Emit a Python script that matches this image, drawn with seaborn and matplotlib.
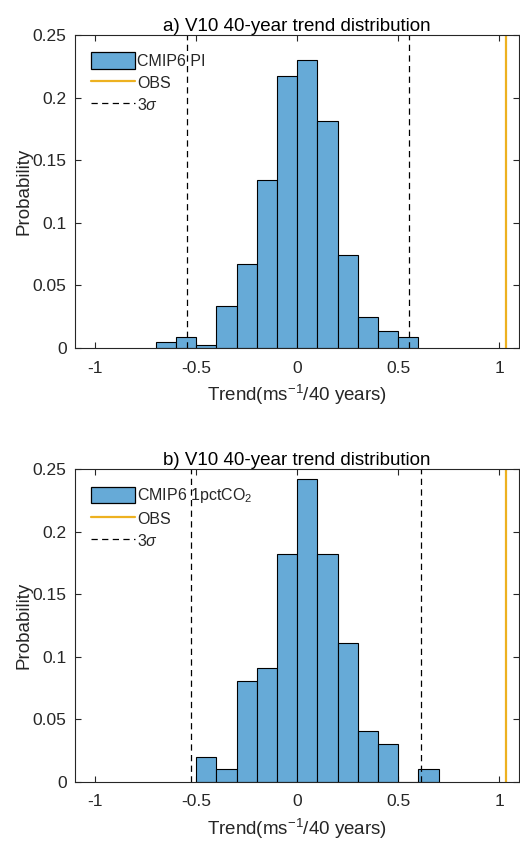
import numpy as np
import pandas as pd
import matplotlib
matplotlib.use('Agg')
import matplotlib.pyplot as plt
import seaborn as sns
from matplotlib.patches import Patch
from matplotlib.lines import Line2D

# bin edges and probabilities
edges_pi = [-0.7, -0.6, -0.5, -0.4, -0.3, -0.2, -0.1, 0.0, 0.1, 0.2, 0.3, 0.4, 0.5, 0.6]
prob_pi = [0.0045, 0.009, 0.0023, 0.0337, 0.0672, 0.134, 0.217, 0.230, 0.181, 0.0739, 0.0247, 0.0135, 0.009]

edges_co2 = [-0.5, -0.4, -0.3, -0.2, -0.1, 0.0, 0.1, 0.2, 0.3, 0.4, 0.5, 0.6, 0.7]
prob_co2 = [0.0202, 0.0101, 0.0808, 0.0909, 0.1818, 0.2424, 0.1818, 0.1111, 0.0404, 0.0303, 0.0, 0.0101]

sigma_pi = [-0.545, 0.554]
sigma_co2 = [-0.523, 0.615]
obs_trend = 1.033

titles = ['a) V10 40-year trend distribution', 'b) V10 40-year trend distribution']
labels = ['CMIP6 PI', 'CMIP6 1pctCO$_2$']

sns.set_theme(style='white')
plt.rcParams['font.family'] = ['Liberation Sans', 'DejaVu Sans']
plt.rcParams['mathtext.fontset'] = 'custom'
plt.rcParams['mathtext.rm'] = 'Liberation Sans'
plt.rcParams['mathtext.it'] = 'Liberation Sans:italic'

bar_color = '#66aad7'
obs_color = '#edb120'
ax_color = '#262626'

fig = plt.figure(figsize=(5.2, 8.41), dpi=100)
ax1 = fig.add_axes([0.144, 0.5862, 0.855, 0.3722])
ax2 = fig.add_axes([0.144, 0.0702, 0.855, 0.3721])

panels = [
    (ax1, edges_pi, prob_pi, sigma_pi, titles[0], labels[0]),
    (ax2, edges_co2, prob_co2, sigma_co2, titles[1], labels[1]),
]

for ax, edges, probs, sig, title, lab in panels:
    centers = (np.array(edges[:-1]) + np.array(edges[1:])) / 2
    df = pd.DataFrame({'trend': centers, 'p': probs})
    sns.histplot(data=df, x='trend', weights='p', bins=edges, ax=ax,
                 color=bar_color, alpha=1, edgecolor='black', linewidth=0.8)
    ax.axvline(obs_trend, color=obs_color, lw=1.6)
    for s in sig:
        ax.axvline(s, color='black', ls=(0, (5, 3.5)), lw=0.9)

    ax.set_xlim(-1.1, 1.1)
    ax.set_ylim(0, 0.25)
    ax.set_xticks([-1, -0.5, 0, 0.5, 1])
    ax.set_xticklabels(['-1', '-0.5', '0', '0.5', '1'])
    ax.set_yticks([0, 0.05, 0.1, 0.15, 0.2, 0.25])
    ax.set_yticklabels(['0', '0.05', '0.1', '0.15', '0.2', '0.25'])
    ax.tick_params(direction='in', length=4, width=0.8, colors=ax_color,
                   labelsize=12.5, top=True, right=True, bottom=True, left=True)
    ax.tick_params(axis='x', pad=9)
    ax.tick_params(axis='y', pad=6)
    for sp in ax.spines.values():
        sp.set_color(ax_color)
        sp.set_linewidth(0.8)
    ax.set_title(title, fontsize=13.5, color='black', pad=3)
    ax.set_xlabel('Trend(ms$^{-1}$/40 years)', fontsize=13.5, color=ax_color, labelpad=5)
    ax.set_ylabel('Probability', fontsize=13.5, color=ax_color, labelpad=0)

    handles = [Patch(facecolor=bar_color, edgecolor='black', linewidth=0.9),
               Line2D([0], [0], color=obs_color, lw=1.6),
               Line2D([0], [0], color='black', ls=(0, (5, 3.5)), lw=0.9)]
    ax.legend(handles, [lab, 'OBS', '3$\\sigma$'], loc='upper left', frameon=False,
              fontsize=11.5, handlelength=2.75, handleheight=1.2, handletextpad=0.15,
              labelspacing=0.33, borderaxespad=0.0, bbox_to_anchor=(0.022, 0.965))

fig.savefig('out.png', dpi=100)
